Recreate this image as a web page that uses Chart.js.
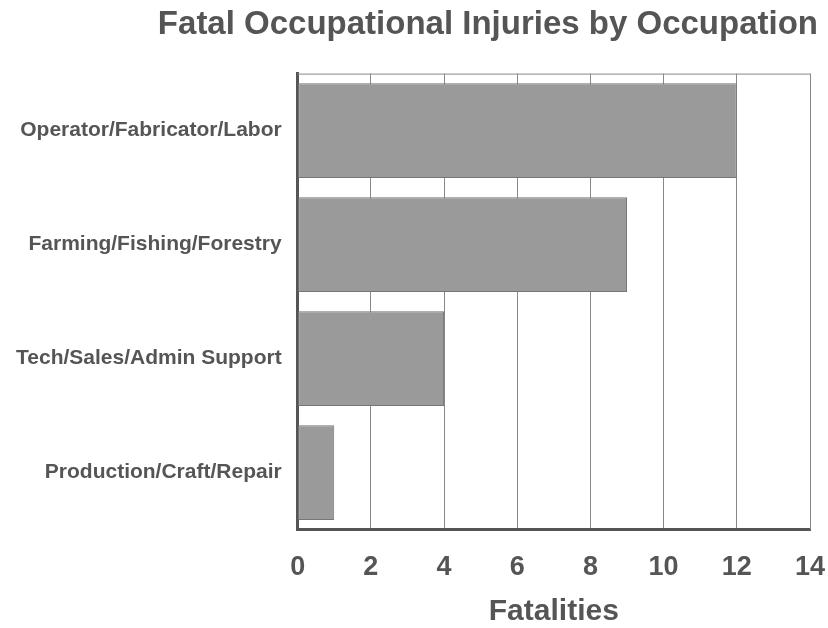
<!DOCTYPE html>
<html>
<head>
<meta charset="utf-8">
<script src="https://cdn.jsdelivr.net/npm/chart.js@4"></script>
<style>
  body { margin: 0; background: #fff; }
  #wrap { width: 828px; height: 628px; }
</style>
</head>
<body>
<div id="wrap"><canvas id="chart" width="828" height="628"></canvas></div>
<script>
// datos
const ocupaciones = ["Operator/Fabricator/Labor", "Farming/Fishing/Forestry", "Tech/Sales/Admin Support", "Production/Craft/Repair"];
const muertes = [12, 9, 4, 1];
const ejeMax = 14;
const ejePaso = 2;

const gris = "#555";
const fuente = "'Liberation Sans', Arial, sans-serif";

// marco fino arriba y a la derecha
const marco = {
  id: "marco",
  beforeDatasetsDraw(chart) {
    const { ctx, chartArea: a } = chart;
    ctx.save();
    ctx.strokeStyle = "#888";
    ctx.lineWidth = 1;
    ctx.beginPath();
    ctx.moveTo(a.left, a.top + 0.5);
    ctx.lineTo(a.right + 0.5, a.top + 0.5);
    ctx.lineTo(a.right + 0.5, a.bottom);
    ctx.stroke();
    ctx.restore();
  }
};

new Chart(document.getElementById("chart").getContext("2d"), {
  type: "bar",
  data: {
    labels: ocupaciones,
    datasets: [{
      data: muertes,
      backgroundColor: "#9a9a9a",
      borderColor: "#767676",
      borderWidth: 1,
      borderSkipped: false,
      categoryPercentage: 1,
      barPercentage: 0.83
    }]
  },
  options: {
    indexAxis: "y",
    responsive: false,
    animation: false,
    layout: { padding: { left: 0, right: 10, top: 0, bottom: -2 } },
    plugins: {
      legend: { display: false },
      tooltip: { enabled: false },
      title: {
        display: true,
        text: "Fatal Occupational Injuries by Occupation",
        align: "end",
        color: gris,
        font: { family: fuente, size: 33, weight: "bold" },
        padding: { top: 5, bottom: 29 }
      }
    },
    scales: {
      x: {
        min: 0,
        max: ejeMax,
        afterFit(scale) { scale.paddingRight = 18; },
        ticks: {
          stepSize: ejePaso,
          color: gris,
          padding: 22,
          font: { family: fuente, size: 27, weight: "bold" }
        },
        grid: { color: "#888", lineWidth: 1, drawTicks: false },
        border: { color: "#555", width: 3 },
        title: {
          display: true,
          text: "Fatalities",
          color: gris,
          font: { family: fuente, size: 30, weight: "bold" },
          padding: { top: -12, bottom: 0 }
        }
      },
      y: {
        ticks: {
          color: gris,
          padding: 16,
          font: { family: fuente, size: 21, weight: "bold" }
        },
        grid: { display: false, drawTicks: false },
        border: { color: "#555", width: 3 }
      }
    }
  },
  plugins: [marco]
});
</script>
</body>
</html>
